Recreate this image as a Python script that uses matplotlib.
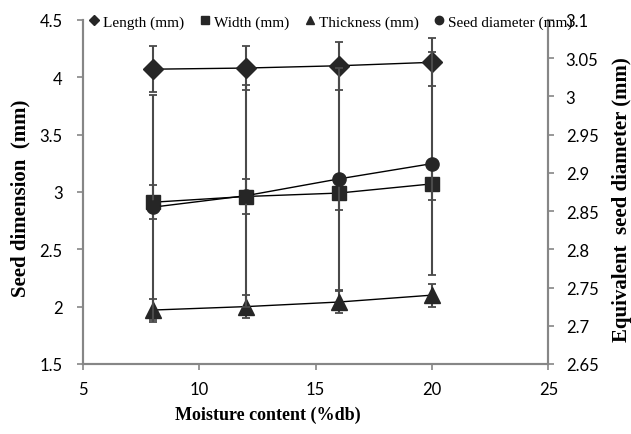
import matplotlib.pyplot as plt
from matplotlib.lines import Line2D
from matplotlib.ticker import FuncFormatter

# values
moisture = [8, 12, 16, 20]
length = [4.07, 4.08, 4.10, 4.13]
width = [2.91, 2.96, 2.99, 3.07]
thickness = [1.97, 2.00, 2.04, 2.10]
diameter = [2.855, 2.870, 2.892, 2.912]
length_err = [0.20, 0.19, 0.21, 0.21]
width_err = [0.15, 0.15, 0.15, 0.14]
thickness_err = [0.10, 0.10, 0.10, 0.10]
diameter_err = [0.147, 0.145, 0.145, 0.146]

left_ticks = [1.5, 2, 2.5, 3, 3.5, 4, 4.5]
right_ticks = [2.65, 2.7, 2.75, 2.8, 2.85, 2.9, 2.95, 3.0, 3.05, 3.1]
x_ticks = [5, 10, 15, 20, 25]

mark_col = '#262626'
err_col = '#4a4a4a'
spine_col = '#868686'
serif = 'Liberation Serif'
sans = 'Lato'


def general(v, pos=None):
    # Excel "General" number format
    return f'{v:g}'


fig = plt.figure(figsize=(6.31, 4.35), dpi=100)
ax = fig.add_axes([0.131, 0.161, 0.738, 0.791])
ax2 = ax.twinx()

series = [
    (ax, length, length_err, 'D', 10.5, 'Length (mm)'),
    (ax, width, width_err, 's', 10.5, 'Width (mm)'),
    (ax, thickness, thickness_err, '^', 11, 'Thickness (mm)'),
    (ax2, diameter, diameter_err, 'o', 9.5, 'Seed diameter (mm)'),
]

for a, vals, err, mk, ms, lab in series:
    a.errorbar(moisture, vals, yerr=err, fmt='none', ecolor=err_col,
               elinewidth=1.5, capsize=2.6, capthick=1.3, zorder=2)
    a.plot(moisture, vals, color='black', lw=1.0, zorder=3)
    a.plot(moisture, vals, linestyle='none', marker=mk, ms=ms,
           color=mark_col, mec=mark_col, zorder=4)

ax.set_xlim(5, 25)
ax.set_ylim(1.5, 4.5)
ax2.set_ylim(2.65, 3.1)
ax.set_xticks(x_ticks)
ax.set_yticks(left_ticks)
ax2.set_yticks(right_ticks)
ax.xaxis.set_major_formatter(FuncFormatter(general))
ax.yaxis.set_major_formatter(FuncFormatter(general))
ax2.yaxis.set_major_formatter(FuncFormatter(general))

for a in (ax, ax2):
    a.spines['top'].set_visible(False)
    for s in ('left', 'right', 'bottom'):
        a.spines[s].set_color(spine_col)
        a.spines[s].set_linewidth(1.5)
    a.tick_params(direction='out', length=4, width=1.2, color=spine_col,
                  labelsize=12)
    for t in a.get_xticklabels() + a.get_yticklabels():
        t.set_fontfamily(sans)
ax.tick_params(axis='y', pad=10.5)
ax.tick_params(axis='x', pad=8)
ax2.tick_params(axis='y', pad=8.5)

ax.set_xlabel('Moisture content (%db)', fontfamily=serif, fontweight='bold',
              fontsize=13)
ax.xaxis.set_label_coords((268 - 82.7) / 465.6, -0.122)
ax.set_ylabel('Seed dimension  (mm)', fontfamily=serif, fontweight='bold',
              fontsize=15)
ax.yaxis.set_label_coords(-0.111, 0.485)
ax2.set_ylabel('Equivalent  seed diameter (mm)', fontfamily=serif,
               fontweight='bold', fontsize=15, rotation=90)
ax2.yaxis.set_label_coords(1.137, 0.48)

handles = [Line2D([], [], linestyle='none', marker=mk, ms=6 if mk != 'D' else 5,
                  color=mark_col) for _, _, _, mk, _, _ in series]
labels = [lab for *_, lab in series]
ax2.legend(handles, labels, loc='upper left', bbox_to_anchor=(0.012, 1.015),
           ncol=4, frameon=False, handlelength=0.7, handletextpad=0.25,
           columnspacing=1.0, borderaxespad=0, borderpad=0,
           prop={'family': serif, 'size': 11})

fig.savefig('out.png', dpi=100)
